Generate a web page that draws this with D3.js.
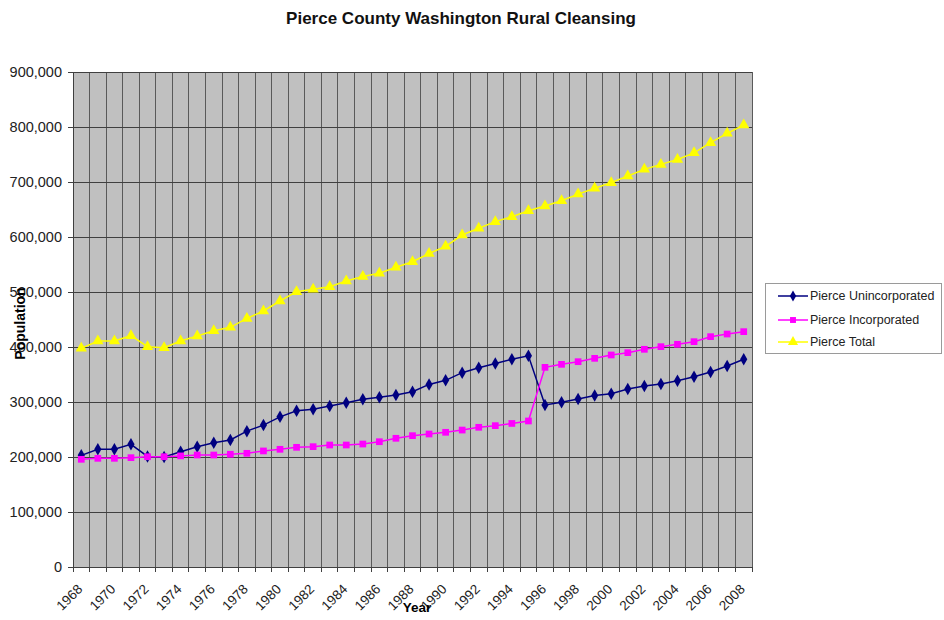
<!DOCTYPE html>
<html>
<head>
<meta charset="utf-8">
<script src="https://cdn.jsdelivr.net/npm/d3@7"></script>
<style>
  html, body { margin: 0; padding: 0; background: #fff; }
  svg { display: block; font-family: "Liberation Sans", Arial, sans-serif; }
</style>
</head>
<body>
<svg id="chart" width="944" height="620"></svg>
<script>
const years = d3.range(1968, 2009);
const unincorporated = [203000, 214000, 214000, 223000, 201000, 200000, 209700, 218800, 226000, 231000,
  247000, 258000, 273000, 284000, 287000, 292700, 298800, 305000, 308500, 312700,
  318800, 332000, 339400, 353300, 362400, 370000, 377600, 384000, 294500, 299400,
  305500, 312000, 315000, 323600, 329000, 332700, 338800, 346000, 354500, 365500, 377600];
const incorporated = [195800, 197600, 197600, 198800, 200500, 200500, 202000, 203600, 203600, 205000,
  206700, 211000, 214000, 217600, 218800, 221800, 221800, 223600, 227800, 234000,
  238800, 241800, 244900, 249000, 254000, 257000, 261000, 265500, 363000, 368500,
  373300, 379400, 385500, 389700, 395800, 400600, 404900, 409700, 418800, 423600, 427900];
const total = [397600, 411000, 411000, 420600, 400600, 398800, 411000, 420000, 429700, 435800,
  452000, 465500, 483600, 500600, 505000, 509700, 520000, 528000, 534000, 545000,
  555000, 570000, 583000, 603600, 615800, 627900, 636900, 647800, 656400, 666000,
  678000, 688500, 698800, 711000, 723000, 732000, 741000, 753000, 771500, 788500, 803600];
const yTicks = [0, 100000, 200000, 300000, 400000, 500000, 600000, 700000, 800000, 900000];
const seriesNames = ["Pierce Unincorporated", "Pierce Incorporated", "Pierce Total"];
const seriesColors = ["#000080", "#FF00FF", "#FFFF00"];
const seriesSymbols = [d3.symbolDiamond, d3.symbolSquare, d3.symbolTriangle];
const seriesValues = [unincorporated, incorporated, total];

const svg = d3.select("#chart");
const L = 73, R = 752, T = 72, B = 567;

const x = d3.scaleBand().domain(years).range([L, R]).padding(0);
const y = d3.scaleLinear().domain([0, 900000]).range([B, T]);
const cx = d => x(d) + x.bandwidth() / 2;

// Title
svg.append("text").attr("x", 461).attr("y", 24).attr("text-anchor", "middle")
  .attr("font-size", 17).attr("font-weight", "bold").attr("fill", "#111")
  .text("Pierce County Washington Rural Cleansing");

// Plot area
svg.append("rect").attr("x", L).attr("y", T).attr("width", R - L).attr("height", B - T)
  .attr("fill", "#C0C0C0");

// vertical gridlines at category boundaries
const bounds = years.map(d => x(d)).concat([R]);
svg.append("g").selectAll("line").data(bounds).join("line")
  .attr("x1", d => d).attr("x2", d => d).attr("y1", T).attr("y2", B)
  .attr("stroke", "#5a5a5a").attr("stroke-width", 1).attr("shape-rendering", "crispEdges");

// horizontal gridlines
svg.append("g").selectAll("line").data(yTicks).join("line")
  .attr("x1", L).attr("x2", R).attr("y1", d => y(d)).attr("y2", d => y(d))
  .attr("stroke", "#404040").attr("stroke-width", 1).attr("shape-rendering", "crispEdges");

// Y axis
const yAxis = d3.axisLeft(y).tickValues(yTicks).tickSize(5).tickPadding(6)
  .tickFormat(d3.format(","));
const gy = svg.append("g").attr("transform", `translate(${L},0)`).call(yAxis);
gy.selectAll("text").attr("font-size", 14.5).attr("fill", "#222")
  .attr("font-family", "'Liberation Sans', Arial, sans-serif");
gy.selectAll("line, path").attr("stroke", "#404040");

// X axis: ticks at boundaries
svg.append("g").selectAll("line").data(bounds).join("line")
  .attr("x1", d => d).attr("x2", d => d).attr("y1", B).attr("y2", B + 5)
  .attr("stroke", "#404040").attr("shape-rendering", "crispEdges");
svg.append("line").attr("x1", L).attr("x2", R).attr("y1", B).attr("y2", B)
  .attr("stroke", "#404040").attr("shape-rendering", "crispEdges");

const labelYears = years.filter(d => d % 2 === 0);
svg.append("g").selectAll("text").data(labelYears).join("text")
  .attr("transform", d => `translate(${cx(d) + 2},${B + 23}) rotate(-45)`)
  .attr("text-anchor", "end")
  .attr("font-size", 13.5).attr("fill", "#222")
  .text(d => d);

// Axis titles
svg.append("text").attr("x", 417).attr("y", 612).attr("text-anchor", "middle")
  .attr("font-size", 13.5).attr("font-weight", "bold").text("Year");
svg.append("text").attr("transform", `translate(25,${(T + B) / 2 + 4}) rotate(-90)`)
  .attr("text-anchor", "middle").attr("font-size", 14).attr("font-weight", "bold")
  .text("Population");

// Series
const line = d3.line().x((d, i) => cx(years[i])).y(d => y(d));
seriesValues.forEach((vals, si) => {
  svg.append("path").datum(vals).attr("d", line)
    .attr("fill", "none").attr("stroke", seriesColors[si]).attr("stroke-width", 1.5);
  const sym = d3.symbol().type(seriesSymbols[si]).size(si === 2 ? 55 : 45);
  svg.append("g").selectAll("path").data(vals).join("path")
    .attr("transform", (d, i) => `translate(${cx(years[i])},${y(d)})`)
    .attr("d", sym()).attr("fill", seriesColors[si]).attr("stroke", "none");
});

// Legend
const lg = svg.append("g");
lg.append("rect").attr("x", 765.5).attr("y", 283.5).attr("width", 176).attr("height", 70)
  .attr("fill", "#fff").attr("stroke", "#9a9a9a");
const ly = [296, 320, 342];
seriesNames.forEach((name, si) => {
  lg.append("line").attr("x1", 778).attr("x2", 808).attr("y1", ly[si]).attr("y2", ly[si])
    .attr("stroke", seriesColors[si]).attr("stroke-width", 1.5);
  lg.append("path").attr("transform", `translate(793,${ly[si]})`)
    .attr("d", d3.symbol().type(seriesSymbols[si]).size(si === 2 ? 45 : 35)())
    .attr("fill", seriesColors[si]);
  lg.append("text").attr("x", 810).attr("y", ly[si]).attr("dy", "0.35em")
    .attr("font-size", 12.5).attr("fill", "#222").text(name);
});
</script>
</body>
</html>
